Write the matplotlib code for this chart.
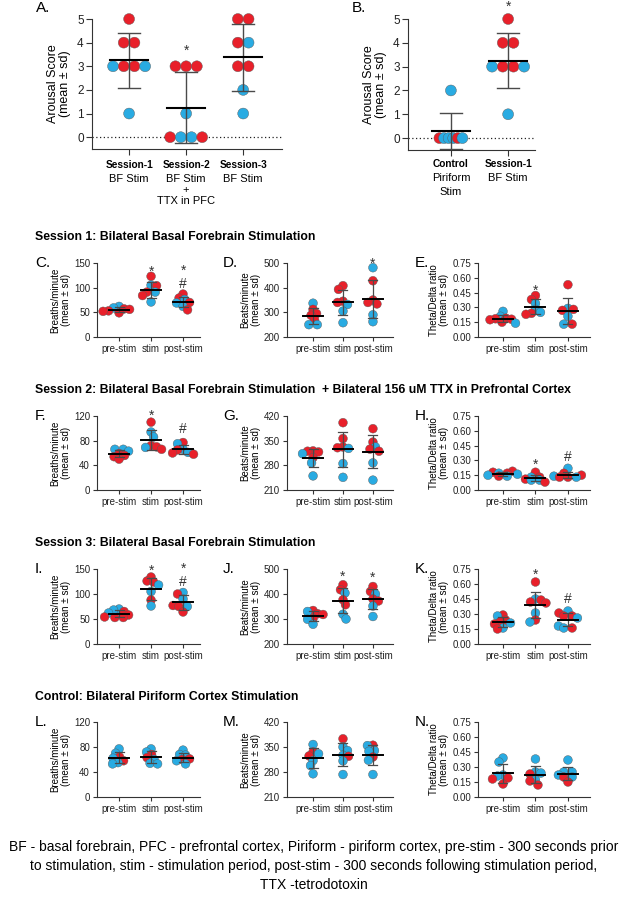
import numpy as np
import matplotlib
matplotlib.use('Agg')
import matplotlib.pyplot as plt
from matplotlib.transforms import blended_transform_factory
from matplotlib.font_manager import FontProperties

plt.rcParams['font.family'] = ['Liberation Sans', 'DejaVu Sans']

RED = '#E8202A'
BLUE = '#29ABE2'
CMAP = {'R': RED, 'B': BLUE}

# ---------------- data ----------------
# Panel A: arousal score per session
a_bold = ['Session-1', 'Session-2', 'Session-3']
a_sub = [['BF Stim'], ['BF Stim', '+', 'TTX in PFC'], ['BF Stim']]
a_vals = [[5, 4, 4, 3, 3, 3, 3, 1],
          [3, 3, 3, 1, 0, 0, 0, 0],
          [5, 5, 4, 4, 3, 3, 2, 1]]
a_cols = ['RRRBRRBB', 'RRRBRBBR', 'RRRBRRBB']
a_marks = [(1, 3.83, '*')]

# Panel B: control vs session-1
b_bold = ['Control', 'Session-1']
b_sub = [['Piriform', 'Stim'], ['BF Stim']]
b_vals = [[2, 0, 0, 0, 0, 0, 0],
          [5, 4, 4, 3, 3, 3, 3, 1]]
b_cols = ['BRBBBRB', 'RRRBRRBB']
b_marks = [(1, 5.69, '*')]

phases = ['pre-stim', 'stim', 'post-stim']

# Session 1
c_vals = [[62, 59, 57, 56, 53, 52, 49],
          [123, 105, 104, 91, 91, 84, 71],
          [87, 79, 76, 70, 69, 62, 55]]
c_cols = ['BBRRRRR', 'RBRRBRB', 'RRBRBBR']
c_marks = [(1, 141, '*'), (2, 136, '*'), (2, 109, '#')]

d_vals = [[337, 312, 295, 288, 270, 250, 250],
          [408, 393, 345, 340, 332, 305, 258],
          [481, 428, 350, 340, 334, 290, 262]]
d_cols = ['BRRRRBB', 'RRRRBBB', 'BRRRRBB']
d_marks = [(2, 515, '*')]

e_vals = [[0.26, 0.21, 0.19, 0.185, 0.18, 0.175, 0.15, 0.14],
          [0.42, 0.38, 0.34, 0.28, 0.25, 0.24, 0.23],
          [0.53, 0.29, 0.28, 0.27, 0.21, 0.13, 0.13]]
e_cols = ['BBRRRRRB', 'RRBBBRR', 'RBRRBBR']
e_marks = [(1, 0.51, '*')]

# Session 2
f_vals = [[66, 66, 63, 59, 56, 54, 50],
          [110, 94, 86, 72, 70, 69, 66],
          [77, 75, 66, 65, 61, 60, 58]]
f_cols = ['BBBRRRR', 'RBBRRBR', 'RBBRBRR']
f_marks = [(1, 127.5, '*'), (2, 100.6, '#')]

g_vals = [[321, 320, 318, 313, 302, 287, 250],
          [401, 356, 332, 330, 328, 285, 246],
          [384, 346, 332, 326, 320, 287, 238]]
g_cols = ['RRRBRBB', 'RRRRBBB', 'RRBRRBB']
g_marks = []

h_vals = [[0.19, 0.18, 0.17, 0.17, 0.16, 0.15, 0.14, 0.14],
          [0.18, 0.13, 0.13, 0.11, 0.10, 0.10, 0.08],
          [0.22, 0.17, 0.15, 0.14, 0.13, 0.13, 0.13]]
h_cols = ['RRBRBBRB', 'RBRRBBR', 'BRRBRRB']
h_marks = [(1, 0.30, '*'), (2, 0.343, '#')]

# Session 3
i_vals = [[70, 68, 65, 62, 58, 54, 53, 53],
          [134, 126, 124, 118, 105, 88, 76],
          [103, 100, 90, 77, 75, 75, 64]]
i_cols = ['BBRBRRRR', 'RRRBBRB', 'BRBRRBR']
i_marks = [(1, 155, '*'), (2, 153, '*'), (2, 127, '#')]

j_vals = [[334, 330, 321, 318, 302, 299, 279],
          [437, 417, 404, 377, 357, 319, 300],
          [430, 410, 400, 380, 372, 352, 310]]
j_cols = ['RBRRRBB', 'RRBRRBB', 'RRBRRBB']
j_marks = [(1, 484, '*'), (2, 480, '*')]

k_vals = [[0.29, 0.28, 0.24, 0.22, 0.21, 0.20, 0.16, 0.15],
          [0.62, 0.45, 0.44, 0.42, 0.41, 0.31, 0.24, 0.22],
          [0.33, 0.31, 0.28, 0.28, 0.26, 0.18, 0.16, 0.16]]
k_cols = ['RBRRBRBR', 'RBRRRBRB', 'BRRRBBBR']
k_marks = [(1, 0.733, '*'), (2, 0.46, '#')]

# Control
l_vals = [[77, 70, 64, 62, 58, 55, 53],
          [77, 72, 68, 63, 60, 54, 53],
          [75, 68, 67, 61, 60, 58, 53]]
l_cols = ['BBRBRBB', 'BBRRBBB', 'BBBRRBB']
l_marks = []

m_vals = [[357, 336, 331, 325, 312, 298, 275],
          [373, 350, 340, 327, 324, 311, 273],
          [355, 354, 340, 338, 322, 313, 273]]
m_cols = ['BRBRBBB', 'RBBBRBB', 'RBBBRBB']
m_marks = []

n_vals = [[0.39, 0.35, 0.22, 0.21, 0.19, 0.18, 0.13],
          [0.38, 0.25, 0.24, 0.23, 0.17, 0.16, 0.12],
          [0.37, 0.25, 0.25, 0.22, 0.20, 0.20, 0.15]]
n_cols = ['BBBBRRR', 'BBBRBRR', 'BBBBRBR']
n_marks = []

breath_ticks = [0, 50, 100, 150]
breath2_ticks = [0, 40, 80, 120]
beat_ticks = [200, 300, 400, 500]
beat2_ticks = [210, 280, 350, 420]
ratio_ticks = [0.0, 0.15, 0.30, 0.45, 0.60, 0.75]

section_titles = [
    'Session 1: Bilateral Basal Forebrain Stimulation',
    'Session 2: Bilateral Basal Forebrain Stimulation  + Bilateral 156 uM TTX in Prefrontal Cortex',
    'Session 3: Bilateral Basal Forebrain Stimulation',
    'Control: Bilateral Piriform Cortex Stimulation',
]
footer_lines = [
    'BF - basal forebrain, PFC - prefrontal cortex, Piriform - piriform cortex, pre-stim - 300 seconds prior',
    'to stimulation, stim - stimulation period, post-stim - 300 seconds following stimulation period,',
    'TTX -tetrodotoxin',
]

# ---------------- layout ----------------
W, H = 627, 900
fig = plt.figure(figsize=(W / 100, H / 100), dpi=100)
renderer = fig.canvas.get_renderer()


def add_ax(l, t, r, b):
    return fig.add_axes([l / W, 1 - b / H, (r - l) / W, (b - t) / H])


def ftext(x, y, s, **kw):
    return fig.text(x / W, 1 - y / H, s, **kw)


def style(ax, fs, length=3):
    for sp in ['top', 'right']:
        ax.spines[sp].set_visible(False)
    for sp in ['left', 'bottom']:
        ax.spines[sp].set_color('#333333')
        ax.spines[sp].set_linewidth(0.8)
    ax.tick_params(length=length, width=0.8, color='#333333', labelsize=fs, pad=2,
                   labelcolor='#222222')


def swarm(ax, xc, vals, diam, coll=1.0, maxspan=None):
    T = ax.transData
    xpx = T.transform((xc, 0))[0]
    ypx = np.array([T.transform((xc, v))[1] for v in vals])
    n = len(vals)
    off = [None] * n
    groups = {}
    for i, v in enumerate(vals):
        groups.setdefault(v, []).append(i)
    for v, idx in groups.items():
        if len(idx) > 1:
            k = len(idx)
            sp = diam
            if maxspan is not None and sp * (k - 1) > maxspan:
                sp = maxspan / (k - 1)
            for j, i in enumerate(idx):
                off[i] = (j - (k - 1) / 2) * sp
    grid = np.arange(-40, 40.01, 0.5)
    for i in range(n):
        if off[i] is not None:
            continue
        sgn = -1 if i % 2 == 0 else 1
        cands = sorted(grid, key=lambda o: (abs(o), o * sgn))
        for o in cands:
            ok = True
            for j in range(n):
                if off[j] is None:
                    continue
                if np.hypot(o - off[j], ypx[i] - ypx[j]) < diam * coll - 1e-9:
                    ok = False
                    break
            if ok:
                off[i] = o
                break
    inv = T.inverted()
    return [inv.transform((xpx + off[i], ypx[i]))[0] for i in range(n)]


def mean_sd(ax, xc, vals, hw_px, cap_px, mlw, wlw, wcol):
    m = np.mean(vals)
    s = np.std(vals, ddof=1)
    ppu = ax.transData.transform((1, 0))[0] - ax.transData.transform((0, 0))[0]
    hw, cw = hw_px / ppu, cap_px / ppu
    ax.plot([xc, xc], [m - s, m + s], color=wcol, lw=wlw, zorder=4, solid_capstyle='butt')
    ax.plot([xc - cw, xc + cw], [m + s, m + s], color=wcol, lw=wlw, zorder=4)
    ax.plot([xc - cw, xc + cw], [m - s, m - s], color=wcol, lw=wlw, zorder=4)
    ax.plot([xc - hw, xc + hw], [m, m], color='black', lw=mlw, zorder=5)


def glyph_off(ch, fs):
    return (0.59 if ch == '*' else 0.36) * fs * 100 / 72


def draw_marks(ax, marks, fs):
    T = ax.transData
    inv = T.inverted()
    fp = FontProperties(family=['Liberation Sans', 'DejaVu Sans'], size=fs)
    _, lh, ld = renderer.get_text_width_height_descent('lp', fp, ismath=False)
    lheight = lh - ld
    byx = {}
    for x, yc, s in marks:
        byx.setdefault(x, []).append((yc, s))
    for x, items in byx.items():
        items = sorted(items, key=lambda t: -t[0])
        cpx = [T.transform((x, yc))[1] for yc, _ in items]
        chars = [s for _, s in items]
        last_base = cpx[-1] - glyph_off(chars[-1], fs)
        ls = 1.0
        if len(items) > 1:
            dist = (cpx[0] - glyph_off(chars[0], fs)) - (cpx[1] - glyph_off(chars[1], fs))
            ls = dist / lheight
        y = inv.transform((T.transform((x, 0))[0], last_base))[1]
        ax.text(x, y, '\n'.join(chars), ha='center', va='baseline', fontsize=fs,
                clip_on=False, zorder=6, color='#333333', linespacing=ls)


def draw_groups(ax, vals_list, cols_list, diam, s_pts, coll, hw, cap, mlw, wlw,
                maxspans=None):
    for gi, (vals, cols) in enumerate(zip(vals_list, cols_list)):
        ms = None if maxspans is None else maxspans[gi]
        xs = swarm(ax, gi, vals, diam, coll, ms)
        ax.scatter(xs, vals, s=s_pts, c=[CMAP[c] for c in cols], edgecolors='#5a5a5a',
                   linewidths=0.3, zorder=3, clip_on=False)
        mean_sd(ax, gi, vals, hw, cap, mlw, wlw, '#4a4a4a')


# ---------------- Panel A ----------------
axA = add_ax(92, 19, 282, 149)
axA.set_xlim(-0.65, 2.68)
axA.set_ylim(-0.5, 5)
style(axA, 8.5, length=4)
axA.set_yticks([0, 1, 2, 3, 4, 5])
axA.set_xticks([0, 1, 2])
axA.set_xticklabels([])
axA.axhline(0, color='#222222', lw=0.9, ls=(0, (1, 2)), zorder=1)
draw_groups(axA, a_vals, a_cols, 10.7, 62, 1.0, 19, 11, 1.5, 1.0)
draw_marks(axA, a_marks, 10)
axA.set_ylabel('Arousal Score\n(mean ± sd)', fontsize=9, labelpad=4, linespacing=1.1)
trA = blended_transform_factory(axA.transData, fig.transFigure)
sub_y = [179, 190, 201]
for i, (bt, subs) in enumerate(zip(a_bold, a_sub)):
    axA.text(i, 1 - 165 / H, bt, transform=trA, ha='center', va='center',
             fontsize=7.3, fontweight='bold')
    for k, st in enumerate(subs):
        axA.text(i, 1 - sub_y[k] / H, st, transform=trA, ha='center', va='center',
                 fontsize=8)
ftext(36, 8, 'A.', fontsize=11, va='center', ha='left')

# ---------------- Panel B ----------------
axB = add_ax(408, 19, 535, 150)
axB.set_xlim(-0.75, 1.47)
axB.set_ylim(-0.5, 5)
style(axB, 8.5, length=4)
axB.set_yticks([0, 1, 2, 3, 4, 5])
axB.set_xticks([0, 1])
axB.set_xticklabels([])
axB.axhline(0, color='#222222', lw=0.9, ls=(0, (1, 2)), zorder=1)
draw_groups(axB, b_vals, b_cols, 10.7, 62, 1.0, 19, 11, 1.5, 1.0,
            maxspans=[23, None])
draw_marks(axB, b_marks, 10)
axB.set_ylabel('Arousal Score\n(mean ± sd)', fontsize=9, labelpad=4, linespacing=1.1)
trB = blended_transform_factory(axB.transData, fig.transFigure)
sub_yb = [178, 192]
for i, (bt, subs) in enumerate(zip(b_bold, b_sub)):
    axB.text(i, 1 - 164 / H, bt, transform=trB, ha='center', va='center',
             fontsize=7.3, fontweight='bold')
    for k, st in enumerate(subs):
        axB.text(i, 1 - sub_yb[k] / H, st, transform=trB, ha='center', va='center',
                 fontsize=8)
ftext(352, 8, 'B.', fontsize=11, va='center', ha='left')

# ---------------- Row panels ----------------
cols_box = [(97, 200, (-0.69, 2.53)), (287, 393, (-0.87, 2.67)), (478, 590, (-0.77, 2.68))]
rows_box = [(263, 337), (416, 490), (569, 644), (722, 797)]
letter_x = [35, 223, 415]

panels = [
    ('C.', c_vals, c_cols, c_marks, 0, 0, 'Breaths/minute', (0, 150), breath_ticks, '{:.0f}'),
    ('D.', d_vals, d_cols, d_marks, 0, 1, 'Beats/minute', (200, 500), beat_ticks, '{:.0f}'),
    ('E.', e_vals, e_cols, e_marks, 0, 2, 'Theta/Delta ratio', (0, 0.75), ratio_ticks, '{:.2f}'),
    ('F.', f_vals, f_cols, f_marks, 1, 0, 'Breaths/minute', (0, 120), breath2_ticks, '{:.0f}'),
    ('G.', g_vals, g_cols, g_marks, 1, 1, 'Beats/minute', (210, 420), beat2_ticks, '{:.0f}'),
    ('H.', h_vals, h_cols, h_marks, 1, 2, 'Theta/Delta ratio', (0, 0.75), ratio_ticks, '{:.2f}'),
    ('I.', i_vals, i_cols, i_marks, 2, 0, 'Breaths/minute', (0, 150), breath_ticks, '{:.0f}'),
    ('J.', j_vals, j_cols, j_marks, 2, 1, 'Beats/minute', (200, 500), beat_ticks, '{:.0f}'),
    ('K.', k_vals, k_cols, k_marks, 2, 2, 'Theta/Delta ratio', (0, 0.75), ratio_ticks, '{:.2f}'),
    ('L.', l_vals, l_cols, l_marks, 3, 0, 'Breaths/minute', (0, 120), breath2_ticks, '{:.0f}'),
    ('M.', m_vals, m_cols, m_marks, 3, 1, 'Beats/minute', (210, 420), beat2_ticks, '{:.0f}'),
    ('N.', n_vals, n_cols, n_marks, 3, 2, 'Theta/Delta ratio', (0, 0.75), ratio_ticks, '{:.2f}'),
]

for letter, vals, cols, marks, r, c, ylab, ylim, yt, fmt in panels:
    l, rr, xl = cols_box[c]
    t, b = rows_box[r]
    ax = add_ax(l, t, rr, b)
    ax.set_xlim(*xl)
    ax.set_ylim(*ylim)
    style(ax, 7)
    ax.set_yticks(yt)
    ax.set_yticklabels([fmt.format(v) for v in yt])
    ax.set_xticks([0, 1, 2])
    ax.set_xticklabels(phases, fontsize=7)
    draw_groups(ax, vals, cols, 8.4, 40, 0.65, 10, 4.5, 1.4, 0.9)
    draw_marks(ax, marks, 10)
    ax.set_ylabel(ylab + '\n(mean ± sd)', fontsize=7, labelpad=2, linespacing=1.1)
    ftext(letter_x[c], t, letter, fontsize=11, va='center', ha='left')

# ---------------- titles / footer ----------------
for ty, txt in zip([237, 390, 543, 697], section_titles):
    ftext(35, ty, txt, fontsize=8.8, fontweight='bold', va='center', ha='left')

for fy, txt in zip([847, 866, 885], footer_lines):
    ftext(W / 2, fy, txt, fontsize=10, va='center', ha='center')

fig.savefig('out.png', dpi=100)
